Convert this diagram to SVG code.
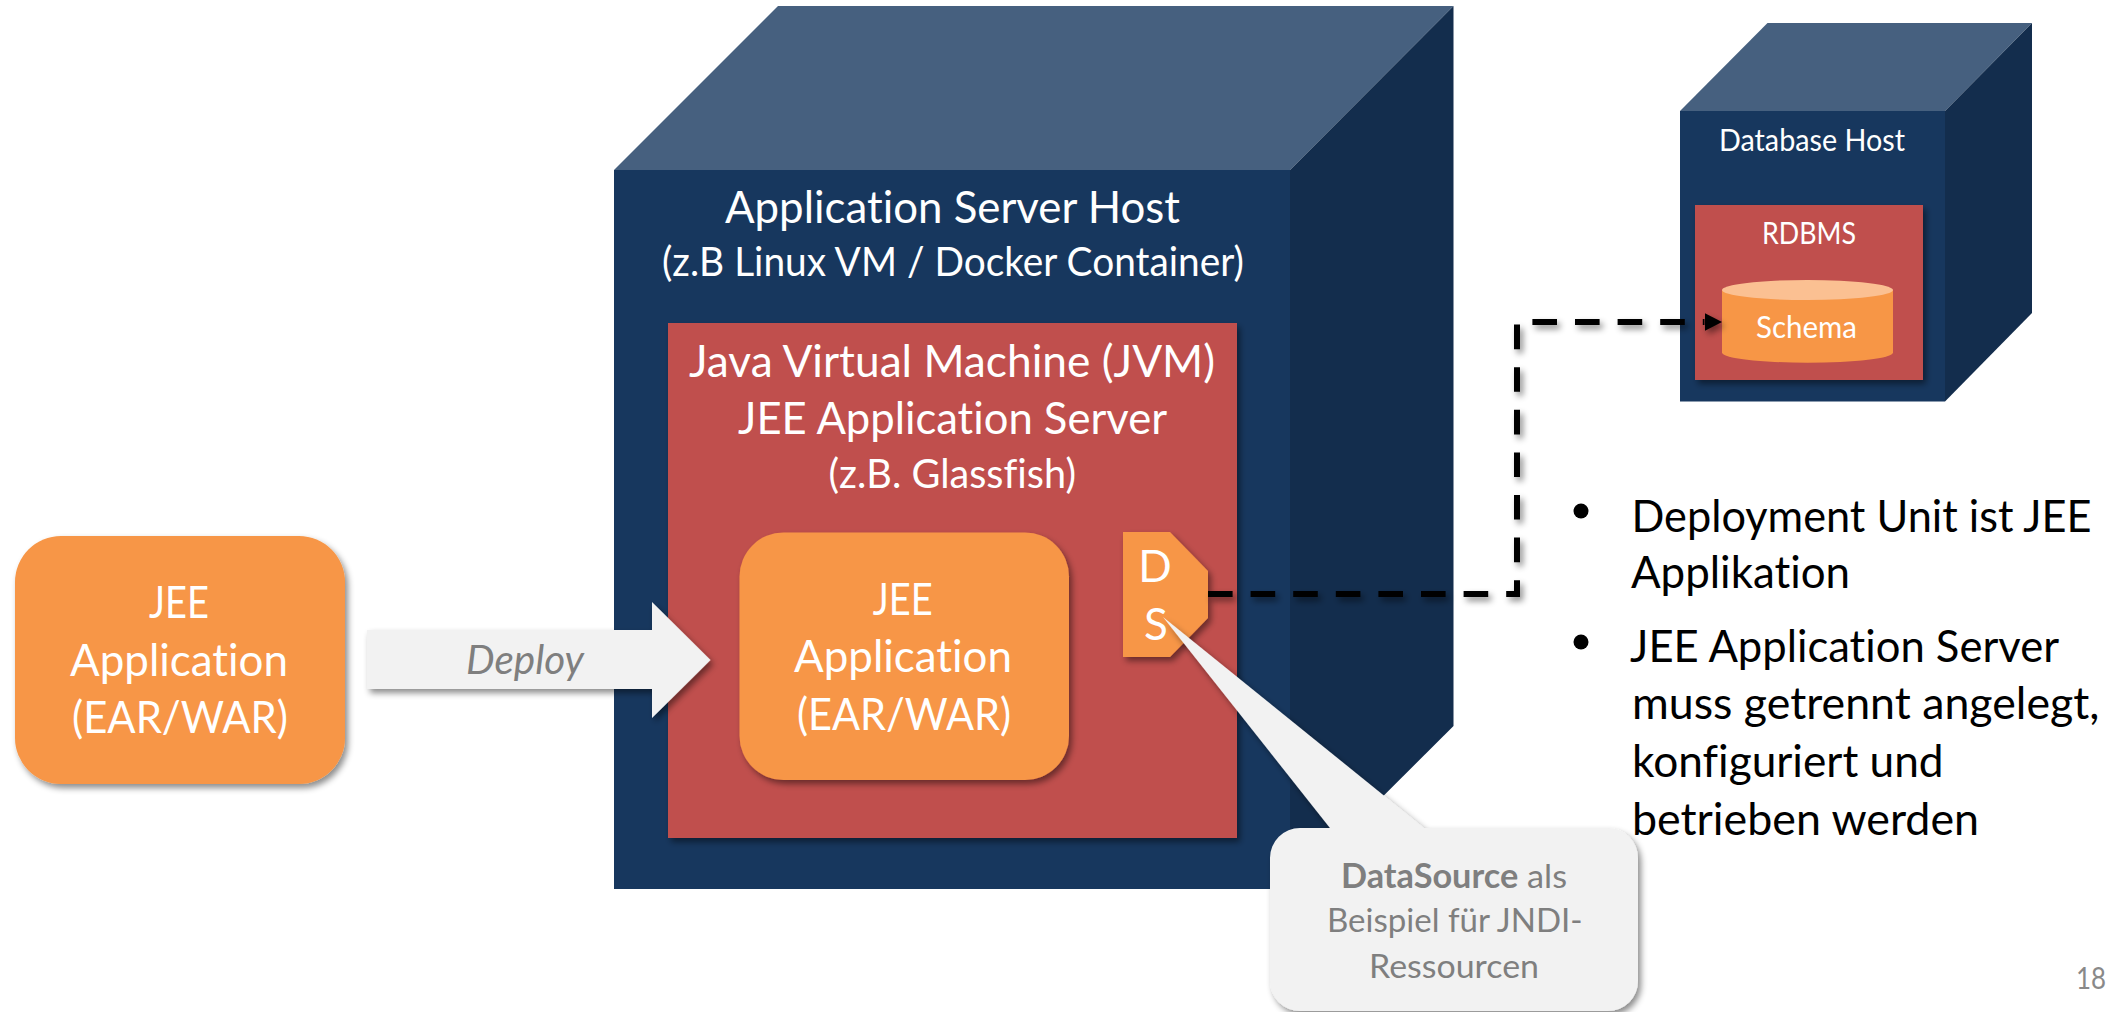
<svg xmlns="http://www.w3.org/2000/svg" width="2126" height="1012" viewBox="0 0 2126 1012">
<style>
text{font-family:"Lato","Carlito","Open Sans",sans-serif;fill:#fff;font-variant-ligatures:none}
.front{fill:#17375E}.top{fill:#46607F}.side{fill:#132D4D}
.red{fill:#C0504D}.orange{fill:#F79646}.gray{fill:#F2F2F2}
.t40{font-size:44px}.t37{font-size:40px}.t28{font-size:30px}.t31{font-size:33.5px}
.g{fill:#7F7F7F}.k{fill:#000}
.conn{fill:none;stroke:#000;stroke-width:6;stroke-dasharray:24.6 18}
</style>
<defs>
<filter id="sh" filterUnits="userSpaceOnUse" x="0" y="0" width="2126" height="1012"><feDropShadow dx="3" dy="4" stdDeviation="3" flood-color="#000" flood-opacity="0.45"/></filter>
<marker id="head" markerUnits="userSpaceOnUse" markerWidth="18" markerHeight="18" refX="0" refY="9" orient="auto"><path d="M0,0L17.5,9L0,18Z" fill="#000"/></marker>
</defs>
<rect width="2126" height="1012" fill="#fff"/>

<g id="app-server-host">
<path class="top" d="M614,170L778,6H1453.5L1290,170Z"/>
<path class="side" d="M1290,170L1453.5,6V726L1290,889Z"/>
<rect class="front" x="614" y="170" width="676" height="719"/>
<text class="t40" x="725" y="223" textLength="455" lengthAdjust="spacingAndGlyphs">Application Server Host</text>
<text class="t37" x="662" y="276" textLength="582" lengthAdjust="spacingAndGlyphs">(z.B Linux VM / Docker Container)</text>
</g>

<g id="jvm">
<rect class="red" x="668" y="323" width="569" height="515" filter="url(#sh)"/>
<text class="t40" x="689" y="377" textLength="526" lengthAdjust="spacingAndGlyphs">Java Virtual Machine (JVM)</text>
<text class="t40" x="738" y="434" textLength="429" lengthAdjust="spacingAndGlyphs">JEE Application Server</text>
<text class="t37" x="828.5" y="488" textLength="247.5" lengthAdjust="spacingAndGlyphs">(z.B. Glassfish)</text>
</g>

<g id="jee-app-inner">
<rect class="orange" x="739.5" y="532.5" width="329.5" height="247.5" rx="44" filter="url(#sh)"/>
<text class="t40" x="872.7" y="615" textLength="60" lengthAdjust="spacingAndGlyphs">JEE</text>
<text class="t40" x="794" y="672" textLength="218" lengthAdjust="spacingAndGlyphs">Application</text>
<text class="t40" x="797" y="730" textLength="214" lengthAdjust="spacingAndGlyphs">(EAR/WAR)</text>
</g>

<g id="data-source">
<path class="orange" d="M1123,532H1170L1208,571V618L1170,657H1123Z" filter="url(#sh)"/>
<text class="t40" x="1155" y="581.7" text-anchor="middle">D</text>
<text class="t40" x="1156" y="640" text-anchor="middle">S</text>
</g>

<g id="database-host">
<path class="top" d="M1680,111L1767.5,23H2032L1945,111Z"/>
<path class="side" d="M1945,111L2032,23V313L1945,401.5Z"/>
<rect class="front" x="1680" y="111" width="265" height="290.5"/>
<text class="t28" x="1719" y="150.7" textLength="186" lengthAdjust="spacingAndGlyphs">Database Host</text>
</g>

<g id="rdbms">
<rect class="red" x="1695" y="205" width="228" height="175" filter="url(#sh)"/>
<text class="t28" x="1762" y="244" textLength="94" lengthAdjust="spacingAndGlyphs">RDBMS</text>
</g>

<g id="schema">
<path class="orange" d="M1722,290V352.5A85.5,10.2 0 0 0 1893,352.5V290Z"/>
<ellipse cx="1807.5" cy="290" rx="85.5" ry="10" fill="#FBC092"/>
<text class="t28" x="1756" y="337.7" textLength="101" lengthAdjust="spacingAndGlyphs">Schema</text>
</g>

<g id="connectors">
<path class="conn" d="M1208,594H1517V322H1704.5" marker-end="url(#head)" filter="url(#sh)"/>
</g>

<g id="jee-app-outer">
<rect class="orange" x="15" y="536" width="330" height="248" rx="46" filter="url(#sh)"/>
<text class="t40" x="149" y="618" textLength="60" lengthAdjust="spacingAndGlyphs">JEE</text>
<text class="t40" x="70" y="676" textLength="218" lengthAdjust="spacingAndGlyphs">Application</text>
<text class="t40" x="72" y="733" textLength="216" lengthAdjust="spacingAndGlyphs">(EAR/WAR)</text>
</g>

<g id="deploy-arrow">
<path class="gray" d="M367,630H652V602L710.5,660L652,718V689H367Z" filter="url(#sh)"/>
<text class="t37 g" x="466" y="674" font-style="italic" textLength="118" lengthAdjust="spacingAndGlyphs">Deploy</text>
</g>

<g id="bullets">
<circle class="k" cx="1581" cy="511" r="7.5"/>
<circle class="k" cx="1581" cy="642" r="7.5"/>
<text class="t40 k" x="1631.5" y="531.7" textLength="460" lengthAdjust="spacingAndGlyphs">Deployment Unit ist JEE</text>
<text class="t40 k" x="1631" y="588" textLength="219" lengthAdjust="spacingAndGlyphs">Applikation</text>
<text class="t40 k" x="1630" y="662" textLength="429" lengthAdjust="spacingAndGlyphs">JEE Application Server</text>
<text class="t40 k" x="1632" y="719" textLength="467.4" lengthAdjust="spacingAndGlyphs">muss getrennt angelegt,</text>
<text class="t40 k" x="1632" y="776.7" textLength="311.6" lengthAdjust="spacingAndGlyphs">konfiguriert und</text>
<text class="t40 k" x="1632" y="835" textLength="347" lengthAdjust="spacingAndGlyphs">betrieben werden</text>
</g>

<g id="datasource-callout">
<path class="gray" d="M1163,617L1424,828H1608A30,30 0 0 1 1638,858V981A30,30 0 0 1 1608,1011H1300A30,30 0 0 1 1270,981V858A30,30 0 0 1 1300,828H1330Z" filter="url(#sh)"/>
<text class="t31 g" x="1341" y="888" textLength="226" lengthAdjust="spacingAndGlyphs"><tspan font-weight="700">DataSource</tspan> als</text>
<text class="t31 g" x="1327" y="932" textLength="255.6" lengthAdjust="spacingAndGlyphs">Beispiel für JNDI-</text>
<text class="t31 g" x="1369" y="978" textLength="170" lengthAdjust="spacingAndGlyphs">Ressourcen</text>
</g>

<text x="2076" y="989" font-size="31" style="fill:#898989" textLength="30" lengthAdjust="spacingAndGlyphs">18</text>
</svg>
